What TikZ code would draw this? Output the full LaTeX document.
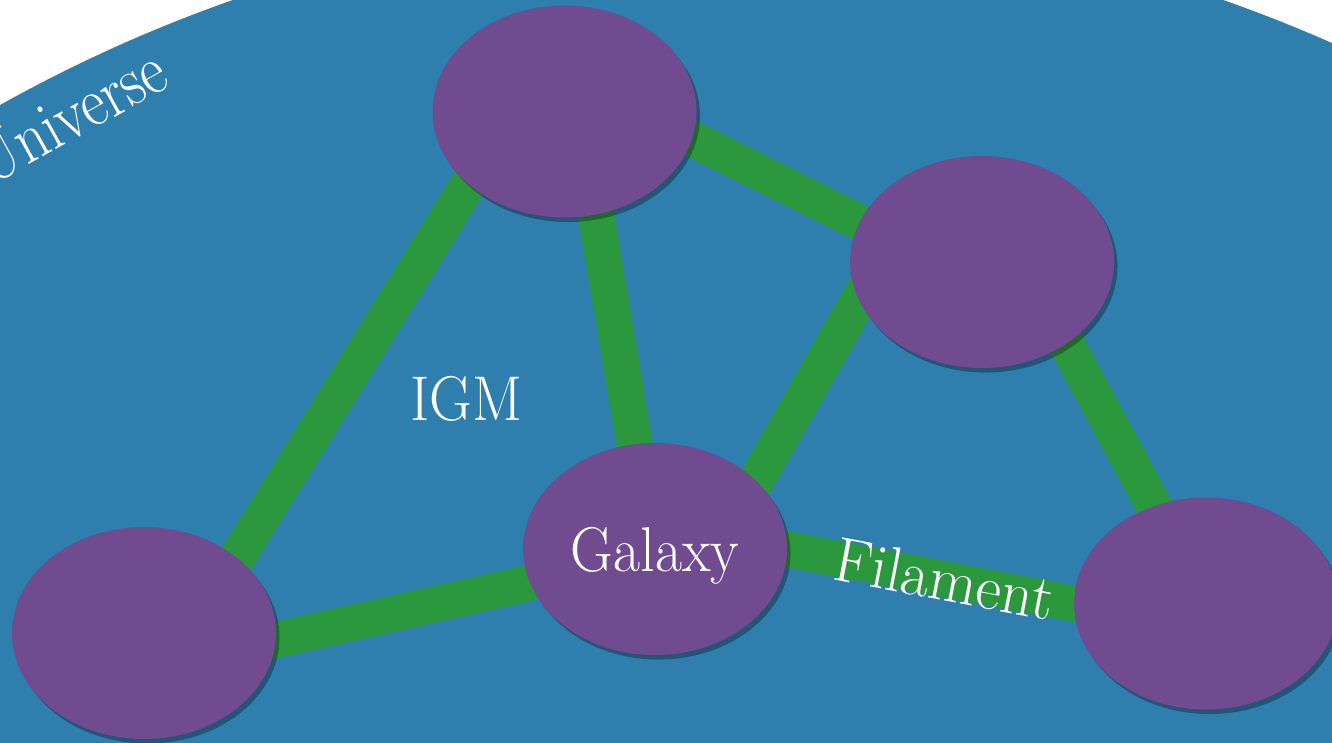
\documentclass[tikz,border=0pt]{standalone}
\usepackage{graphicx}
\usepackage{fontspec}
\newfontfamily\feltfont{lmroman17-regular}[Extension=.otf]
\newcommand\felt[2][.93]{\scalebox{#1}[1]{#2}}
\usetikzlibrary{shapes.geometric,shadows}
\definecolor{feltblue}{RGB}{46,126,174}
\definecolor{feltpurple}{RGB}{113,75,144}
\definecolor{feltgreen}{RGB}{44,152,62}
\pgfdeclarelayer{sky}
\pgfdeclarelayer{web}
\pgfsetlayers{sky,web,main}

\begin{document}
\begin{tikzpicture}[
    halo/.style={ellipse, fill=feltpurple, minimum width=2.64cm, minimum height=2.12cm,
        inner sep=0pt, outer sep=0pt,
        drop shadow={shadow xshift=1pt, shadow yshift=-1.3pt, opacity=.3, fill=black}},
    strand/.style={draw=feltgreen, line width=3.6mm, shorten <=-4mm, shorten >=-4mm,
        preaction={draw=black, opacity=.25, transform canvas={xshift=.8pt, yshift=-1pt}}},
    tag/.style={font=\feltfont\fontsize{18}{22}\selectfont, text=white, inner sep=0pt}]

    \useasboundingbox (0,0) rectangle (13.32,7.43);
    \clip (0,0) rectangle (13.32,7.43);

    \begin{pgfonlayer}{sky}
        \fill[feltblue] (7.28,-6.67) circle (14.94);
    \end{pgfonlayer}

    \node[halo] (gtop) at (5.645,6.315) {};
    \node[halo] (gmid) at (9.82,4.81) {};
    \node[halo, tag, text depth=0pt] (gal) at (6.55,1.94) {\felt{Galaxy}};
    \node[halo] (gleft) at (1.44,1.10) {};
    \node[halo] (gright) at (12.06,1.395) {};

    \begin{pgfonlayer}{web}
        \draw[strand] (gleft.39) -- (gtop.217);
        \draw[strand] (gtop.287) -- (gal.101);
        \draw[strand] (gtop.348) -- (gmid.162);
        \draw[strand] (gmid.197) -- (gal.34);
        \draw[strand] (gmid.316) -- (gright.118);
        \draw[strand] (gleft.357) -- (gal.195);
        \draw[strand] (gal.east) -- node[tag, sloped, pos=.55] (fil) {\felt[.98]{Filament}} (gright.west);
    \end{pgfonlayer}

    \node[tag] (igm) at (4.665,3.44) {\felt{IGM}};
    \node[tag, font=\feltfont\fontsize{20}{24}\selectfont, rotate=29, anchor=base east]
        (univ) at (1.73,6.58) {\felt[.86]{Universe}};
\end{tikzpicture}
\end{document}
